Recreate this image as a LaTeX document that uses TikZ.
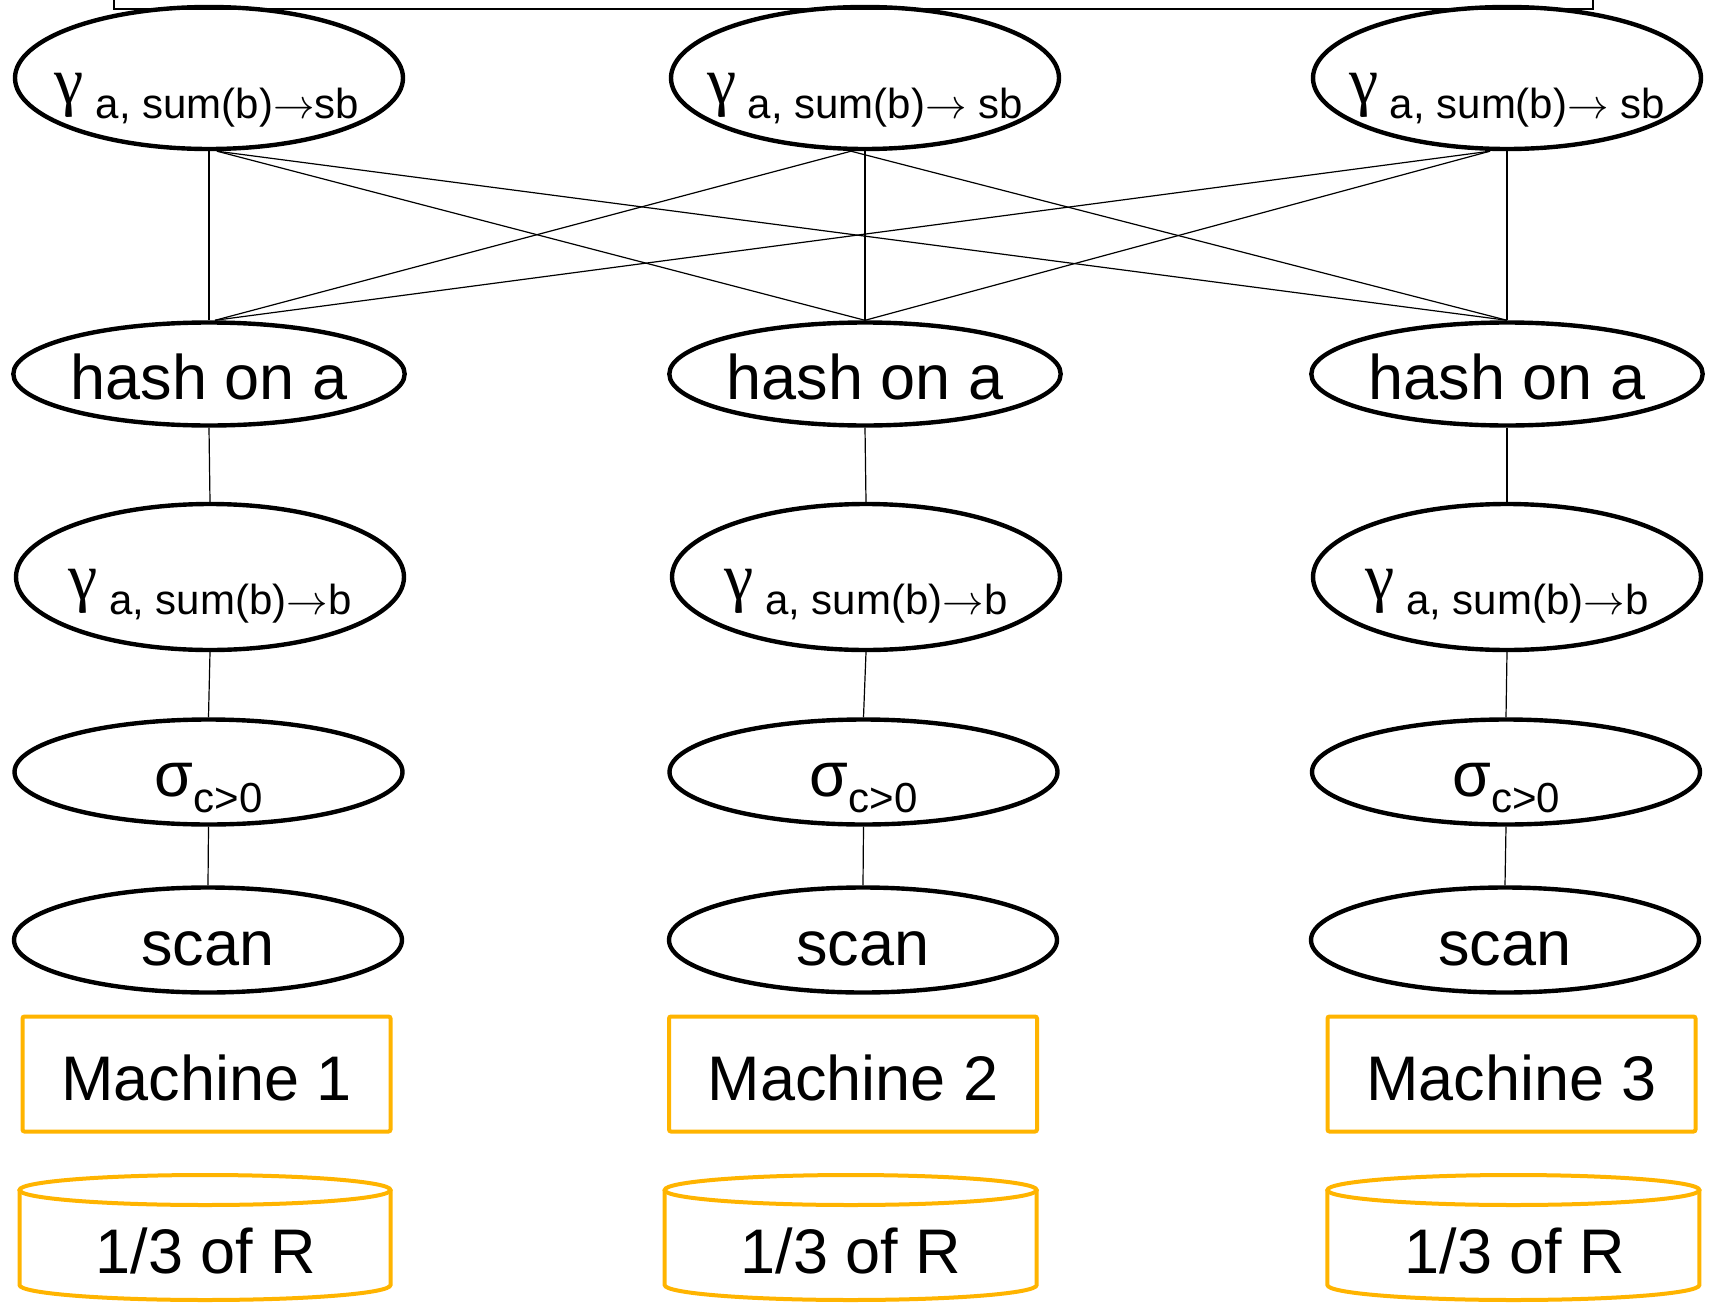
\documentclass[tikz,border=0pt]{standalone}
\usepackage{fontspec}
\setmainfont{Liberation Sans}
\newfontfamily\grkserif{Liberation Serif}
\usetikzlibrary{shapes.geometric}
\definecolor{machineorange}{RGB}{255,180,0}

% aggregation label: gamma with a lowered subscript
\newcommand\aggrlabel[1]{{\grkserif\fontsize{33}{36}\selectfont γ}\raisebox{-7.5pt}{\fontsize{21}{24}\selectfont\ #1}}
% selection label: sigma with a lowered subscript
\newcommand\sellabel[1]{σ\raisebox{-8pt}{\fontsize{21}{24}\selectfont #1}}
\newcommand\toarrow{\ensuremath{\rightarrow}}

\begin{document}
\begin{tikzpicture}[x=0.5pt,y=-0.5pt,
  op/.style={ellipse, draw, line width=2.2pt, minimum width=194pt, inner sep=0pt,
    font=\fontsize{31.5}{36}\selectfont, text height=25pt, text depth=0pt},
  aggtop/.style={op, minimum height=71pt},
  agglow/.style={op, minimum height=73pt},
  hashop/.style={op, minimum height=51.5pt},
  selop/.style={op, minimum height=52.5pt},
  scanop/.style={op, minimum height=52.5pt},
  optext/.style={anchor=base, inner sep=0pt, font=\fontsize{31.5}{36}\selectfont},
  link/.style={line width=0.6pt},
  machine/.style={draw=machineorange, line width=2pt, rounded corners=1pt,
    minimum width=184pt, minimum height=57.5pt, inner sep=0pt,
    font=\fontsize{31.5}{36}\selectfont, text height=26pt, text depth=0pt},
  disk/.style={draw=machineorange, line width=2pt},
  disktext/.style={inner sep=0pt, font=\fontsize{31.5}{36}\selectfont, text height=25pt, text depth=0pt}
]
\clip (0,0) rectangle (1709,1306);
\fill[white] (0,0) rectangle (1709,1306);

% enclosing plan box, only its lower part is visible
\draw[line width=1pt] (114,-40) rectangle (1593,9);

% final aggregation
\node[aggtop] (ga1) at (209,78) {};
\node[aggtop] (ga2) at (865,78) {};
\node[aggtop] (ga3) at (1507,78) {};
\node[optext] (ga1t) at (207,103) {\aggrlabel{a, sum(b)\toarrow sb}};
\node[optext] (ga2t) at (865,103) {\aggrlabel{a, sum(b)\toarrow\ sb}};
\node[optext] (ga3t) at (1507,103) {\aggrlabel{a, sum(b)\toarrow\ sb}};

% repartitioning
\node[hashop] (h1) at (209,374) {hash on a};
\node[hashop] (h2) at (865,374) {hash on a};
\node[hashop] (h3) at (1507,374) {hash on a};

% local pre-aggregation
\node[agglow] (gb1) at (210,577) {};
\node[agglow] (gb2) at (866,577) {};
\node[agglow] (gb3) at (1507,577) {};
\node[optext] (gb1t) at (210,599) {\aggrlabel{a, sum(b)\toarrow b}};
\node[optext] (gb2t) at (866,599) {\aggrlabel{a, sum(b)\toarrow b}};
\node[optext] (gb3t) at (1507,599) {\aggrlabel{a, sum(b)\toarrow b}};

% selection
\node[selop] (s1) at (208.5,772) {};
\node[selop] (s2) at (863.5,772) {};
\node[selop] (s3) at (1506,772) {};
\node[optext] (s1t) at (208.5,796) {\sellabel{c>0}};
\node[optext] (s2t) at (863.5,796) {\sellabel{c>0}};
\node[optext] (s3t) at (1506,796) {\sellabel{c>0}};

% scans
\node[scanop] (sc1) at (208,940) {scan};
\node[scanop] (sc2) at (863,940) {scan};
\node[scanop] (sc3) at (1505,940) {scan};

% machines
\node[machine] (m1) at (206.5,1074) {Machine 1};
\node[machine] (m2) at (853,1074) {Machine 2};
\node[machine] (m3) at (1511.5,1074) {Machine 3};

% data partitions
\foreach \cx/\hw in {205/185.5, 850.7/186, 1513.4/186}{
  \draw[disk] (\cx-\hw,1190) -- (\cx-\hw,1285)
    arc[start angle=180, end angle=360, x radius=\hw*0.5pt, y radius=7.5pt]
    -- (\cx+\hw,1190);
  \draw[disk] (\cx,1190) ellipse[x radius=\hw*0.5pt, y radius=7.5pt];
}
\node[disktext] (d1) at (206,1248) {1/3 of R};
\node[disktext] (d2) at (851,1248) {1/3 of R};
\node[disktext] (d3) at (1515,1248) {1/3 of R};

% shuffle connections
\foreach \i in {1,2,3}{
  \draw[link] (ga\i.south) -- (h\i.north);
  \draw[link] (h\i.south) -- (gb\i.north);
  \draw[link] (gb\i.south) -- (s\i.north);
  \draw[link] (s\i.south) -- (sc\i.north);
}
\draw[link] ([xshift=4pt]ga1.south) -- (h2.north);
\draw[link] ([xshift=4pt]ga1.south) -- (h3.north);
\draw[link] ([xshift=-7pt]ga2.south) -- ([xshift=3pt]h1.north);
\draw[link] ([xshift=-7pt]ga2.south) -- (h3.north);
\draw[link] ([xshift=-8.5pt]ga3.south) -- ([xshift=3pt]h1.north);
\draw[link] ([xshift=-8.5pt]ga3.south) -- (h2.north);
\end{tikzpicture}
\end{document}
